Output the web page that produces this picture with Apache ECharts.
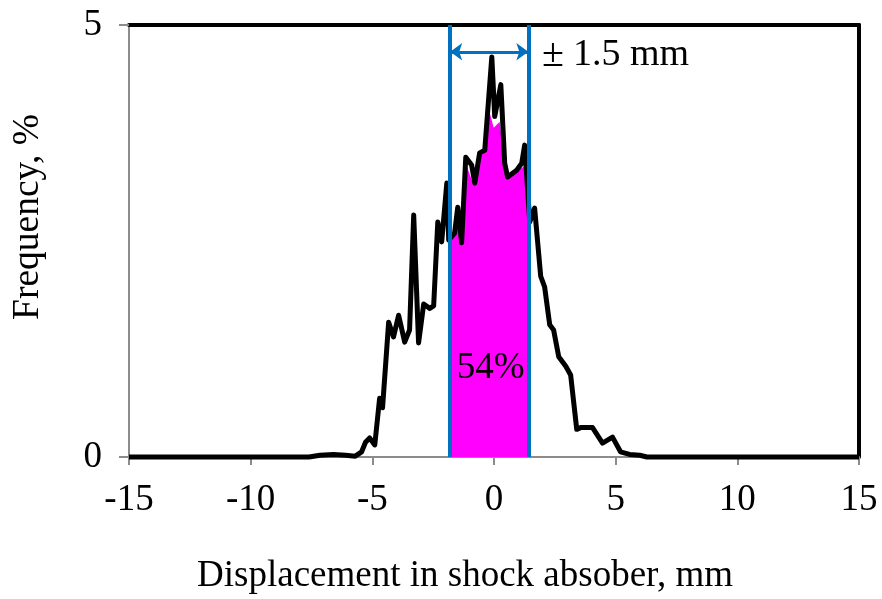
<!DOCTYPE html>
<html>
<head>
<meta charset="utf-8">
<script src="https://cdn.jsdelivr.net/npm/echarts@6/dist/echarts.min.js"></script>
<style>
  html, body { margin: 0; padding: 0; background: #fff; }
  #chart { width: 882px; height: 599px; }
</style>
</head>
<body>
<div id="chart"></div>
<script>
// Displacement histogram of the shock absorber (frequency in %)
const dispAll = [-15, -7.6, -7.15, -6.6, -6.1, -5.7, -5.44, -5.28, -5.11, -4.9, -4.7, -4.58,
  -4.33, -4.13, -3.92, -3.67, -3.47, -3.30, -3.10, -2.89, -2.64, -2.48, -2.31, -2.15,
  -1.94, -1.86, -1.62, -1.49, -1.33, -1.16, -0.92, -0.79, -0.59, -0.38, -0.09, 0.03,
  0.28, 0.44, 0.56, 0.93, 1.14, 1.26, 1.47, 1.67, 1.92, 2.08, 2.29, 2.45,
  2.66, 2.95, 3.15, 3.40, 3.56, 4.05, 4.46, 4.87, 5.20, 5.57, 5.99, 6.28, 15];
const freqAll = [0, 0, 0.02, 0.03, 0.02, 0.01, 0.06, 0.17, 0.22, 0.14, 0.68, 0.57,
  1.56, 1.39, 1.64, 1.33, 1.47, 2.80, 1.32, 1.77, 1.72, 1.75, 2.72, 2.49,
  3.17, 2.51, 2.59, 2.89, 2.48, 3.47, 3.38, 3.17, 3.52, 3.55, 4.63, 3.94,
  4.31, 3.40, 3.24, 3.32, 3.40, 3.61, 2.72, 2.88, 2.09, 1.97, 1.53, 1.47,
  1.16, 1.05, 0.95, 0.32, 0.34, 0.34, 0.16, 0.23, 0.06, 0.03, 0.02, 0, 0];

// Share inside the tolerance band
const dispBand = [-1.80, -1.62, -1.49, -1.33, -1.16, -0.88, -0.59, -0.34, -0.18, -0.01, 0.23, 0.44, 0.56, 1.22, 1.41];
const freqBand = [2.51, 2.59, 2.86, 2.48, 3.40, 3.18, 3.54, 3.56, 3.99, 3.81, 3.88, 3.41, 3.24, 3.36, 3.46];

const bandLimits = [-1.80, 1.41];
const bandShare = '54%';
const bandText = '±1.5 mm';

const xTicks = { min: -15, max: 15, interval: 5 };
const yTicks = { min: 0, max: 5, interval: 5 };

const serif = '"Liberation Serif", "Times New Roman", serif';
const axisGray = '#8c8c8c';

const chart = echarts.init(document.getElementById('chart'), null, { renderer: 'canvas' });

const toPairs = (xs, ys) => xs.map((x, i) => [x, ys[i]]);

chart.setOption({
  animation: false,
  backgroundColor: '#fff',
  grid: { left: 129, right: 23, top: 25, bottom: 142 },
  xAxis: [
    {
      type: 'value', min: xTicks.min, max: xTicks.max, interval: xTicks.interval,
      splitLine: { show: false },
      axisLine: { onZero: false, lineStyle: { color: axisGray, width: 2 } },
      axisTick: { show: true, length: 8, lineStyle: { color: axisGray, width: 2 } },
      axisLabel: { margin: 25, fontFamily: serif, fontSize: 37, color: '#000' }
    },
    {
      type: 'value', position: 'top', min: xTicks.min, max: xTicks.max,
      splitLine: { show: false },
      axisLine: { onZero: false, lineStyle: { color: '#000', width: 4 } },
      axisTick: { show: false }, axisLabel: { show: false }
    }
  ],
  yAxis: [
    {
      type: 'value', min: yTicks.min, max: yTicks.max, interval: yTicks.interval,
      splitLine: { show: false },
      axisLine: { show: true, onZero: false, lineStyle: { color: axisGray, width: 2 } },
      axisTick: { show: true, length: 10, lineStyle: { color: axisGray, width: 2 } },
      axisLabel: { margin: 27, fontFamily: serif, fontSize: 37, color: '#000' }
    },
    {
      type: 'value', position: 'right', min: yTicks.min, max: yTicks.max,
      splitLine: { show: false },
      axisLine: { show: true, onZero: false, lineStyle: { color: '#000', width: 4 } },
      axisTick: { show: false }, axisLabel: { show: false }
    }
  ],
  series: [
    {
      // filled share within the band
      type: 'line',
      data: toPairs(dispBand, freqBand),
      symbol: 'none',
      lineStyle: { width: 0 },
      areaStyle: { color: '#ff00ff', opacity: 1 },
      z: 2,
      markPoint: {
        symbol: 'circle', symbolSize: 1,
        itemStyle: { color: 'rgba(0,0,0,0)' },
        data: [{
          coord: [-0.14, 1.03],
          label: { show: true, position: 'inside', formatter: bandShare,
            fontFamily: serif, fontSize: 37, color: '#000' }
        }]
      }
    },
    {
      // full distribution
      type: 'line',
      data: toPairs(dispAll, freqAll),
      symbol: 'none',
      clip: false,
      lineStyle: { color: '#000', width: 5, join: 'round' },
      z: 3
    },
    {
      // band limits and span arrow
      type: 'line',
      data: [],
      z: 4,
      markLine: {
        silent: true,
        symbol: ['none', 'none'],
        label: { show: false },
        lineStyle: { color: '#0070c0', width: 4, type: 'solid' },
        data: [
          [{ coord: [bandLimits[0], 0] }, { coord: [bandLimits[0], 5] }],
          [{ coord: [bandLimits[1], 0] }, { coord: [bandLimits[1], 5] }],
          [
            { coord: [bandLimits[0], 4.69], symbol: 'arrow', symbolSize: [13, 12], lineStyle: { width: 3 } },
            { coord: [bandLimits[1], 4.69], symbol: 'arrow', symbolSize: [13, 12] }
          ]
        ]
      },
      markPoint: {
        symbol: 'circle', symbolSize: 1,
        itemStyle: { color: 'rgba(0,0,0,0)' },
        data: [{
          coord: [1.95, 4.65],
          label: {
            show: true, position: 'right', distance: 0,
            formatter: '{pm|±}' + bandText.slice(1),
            fontFamily: serif, fontSize: 38, color: '#000',
            rich: { pm: { fontFamily: serif, fontSize: 40, color: '#000', padding: [0, 9, 0, 0] } }
          }
        }]
      }
    }
  ],
  graphic: [
    {
      type: 'text', x: 28, y: 217, rotation: Math.PI / 2,
      style: { text: 'Frequency, %', font: '37.5px ' + serif, fill: '#000',
        textAlign: 'center', textVerticalAlign: 'middle' }
    },
    {
      type: 'text', x: 465, y: 576,
      style: { text: 'Displacement in shock absober, mm', font: '37px ' + serif, fill: '#000',
        textAlign: 'center', textVerticalAlign: 'middle' }
    }
  ]
});
</script>
</body>
</html>
